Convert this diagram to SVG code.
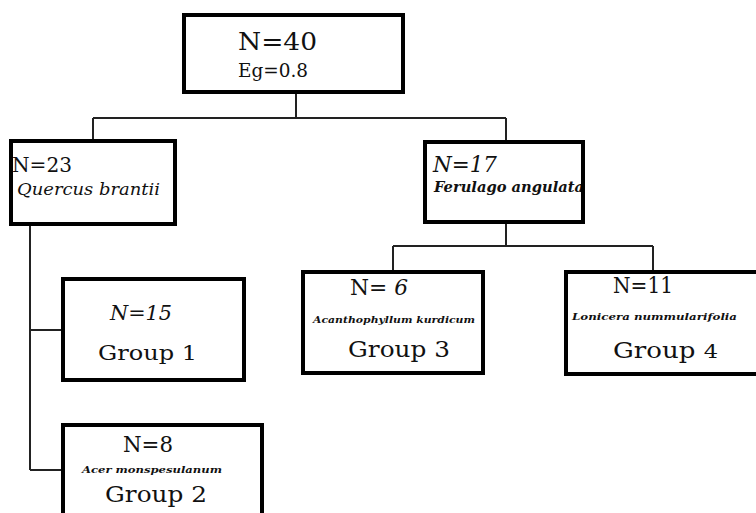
<svg xmlns="http://www.w3.org/2000/svg" width="756" height="513" viewBox="0 0 756 513">
<style>
.box{fill:#fff;stroke:#000;stroke-width:4}
.ln{fill:none;stroke:#222;stroke-width:2}
text{font-family:'DejaVu Serif',serif;fill:#111}
.i{font-style:italic}
.b{font-weight:bold}
</style>
<rect width="756" height="513" fill="#fff"/>
<g id="connectors">
<path class="ln" d="M296 92V118M93 118H506M93 118V140M506 118V142"/>
<path class="ln" d="M30 222V470M30 330H63M30 470H63"/>
<path class="ln" d="M506 222V246M393 246H653M393 246V272M653 246V272"/>
</g>
<g id="root">
<rect class="box" x="184" y="15" width="219" height="77"/>
<text x="238" y="50" font-size="25" textLength="79" lengthAdjust="spacingAndGlyphs">N=40</text>
<text x="238" y="77" font-size="19" textLength="70" lengthAdjust="spacingAndGlyphs">Eg=0.8</text>
</g>
<g id="n23">
<rect class="box" x="11" y="141" width="164" height="83"/>
<text x="12" y="172" font-size="20" textLength="60" lengthAdjust="spacingAndGlyphs">N=23</text>
<text class="i" x="17" y="195" font-size="16" textLength="143" lengthAdjust="spacingAndGlyphs">Quercus brantii</text>
</g>
<g id="n17">
<rect class="box" x="425" y="142" width="158" height="80"/>
<text class="i" x="433" y="172" font-size="22" textLength="64" lengthAdjust="spacingAndGlyphs">N=17</text>
<text class="i b" x="434" y="192" font-size="14" textLength="150" lengthAdjust="spacingAndGlyphs">Ferulago angulata</text>
<rect x="425" y="142" width="158" height="80" fill="none" stroke="#000" stroke-width="4"/>
</g>
<g id="group1">
<rect class="box" x="63" y="279" width="181" height="101"/>
<text class="i" x="110" y="320" font-size="20" textLength="62" lengthAdjust="spacingAndGlyphs">N=15</text>
<text x="98" y="360" font-size="21" textLength="99" lengthAdjust="spacingAndGlyphs">Group 1</text>
</g>
<g id="group2">
<rect class="box" x="63" y="425" width="199" height="100"/>
<text x="123" y="452" font-size="22" textLength="50" lengthAdjust="spacingAndGlyphs">N=8</text>
<text class="i b" x="82" y="473" font-size="9" textLength="140" lengthAdjust="spacingAndGlyphs">Acer monspesulanum</text>
<text x="105" y="502" font-size="23" textLength="102" lengthAdjust="spacingAndGlyphs">Group 2</text>
</g>
<g id="group3">
<rect class="box" x="303" y="272" width="180" height="101"/>
<text x="350" y="295" font-size="22" textLength="58" lengthAdjust="spacingAndGlyphs">N= <tspan class="i">6</tspan></text>
<text class="i b" x="313" y="323" font-size="9" textLength="162" lengthAdjust="spacingAndGlyphs">Acanthophyllum kurdicum</text>
<text x="348" y="357" font-size="22" textLength="102" lengthAdjust="spacingAndGlyphs">Group 3</text>
</g>
<g id="group4">
<rect class="box" x="566" y="272" width="200" height="102"/>
<text x="613" y="293" font-size="22" textLength="60" lengthAdjust="spacingAndGlyphs">N=11</text>
<text class="i b" x="572" y="320" font-size="9" textLength="165" lengthAdjust="spacingAndGlyphs">Lonicera nummularifolia</text>
<text x="613" y="358" font-size="22" textLength="105" lengthAdjust="spacingAndGlyphs">Group <tspan font-size="19">4</tspan></text>
</g>
</svg>
